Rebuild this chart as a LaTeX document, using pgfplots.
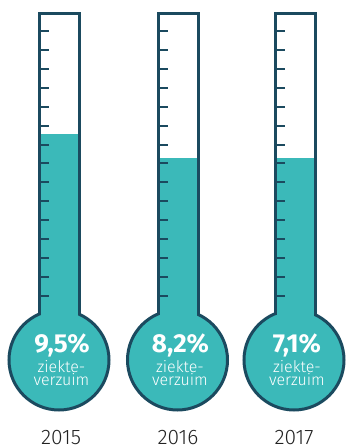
\documentclass[border=0pt]{standalone}
\usepackage{pgfplots}
\usepackage{pgfplotstable}
\pgfplotsset{compat=1.18}
\usepackage{fontspec}
\setmainfont{Fira Sans}
\newfontfamily\lightfont{Fira Sans Light}
\definecolor{teal1}{HTML}{3BB9B9}
\definecolor{dark1}{HTML}{1B4A5F}
\definecolor{yeargray}{HTML}{222222}

\pgfplotstableread{
y
417
398.1
379.1
360.2
341.3
322.4
303.4
284.5
265.6
246.6
227.7
208.8
189.8
170.9
152
}\tickrows

\begin{document}
\begin{tikzpicture}
\begin{axis}[scale only axis, width=346pt, height=448pt,
  xmin=0, xmax=346, ymin=0, ymax=448,
  axis lines=none, ticks=none, clip=false, set layers]

% keep the full canvas in the bounding box
\addplot[draw=none, mark=none, forget plot] coordinates {(0,0) (346,448)};

% bulbs
\addplot[only marks, mark=*, mark size=50pt, on layer=axis background, mark layer=axis background,
  mark options={fill=teal1, draw=dark1, line width=3pt}]
  coordinates {(59,88) (177.5,88) (294,88)};

% liquid levels (2015: 9,5%  2016: 8,2%  2017: 7,1%)
\addplot[fill=teal1, draw=none] coordinates {(41,110) (78,110) (78,314) (41,314)} -- cycle;
\addplot[fill=teal1, draw=none] coordinates {(159.5,110) (196.5,110) (196.5,290) (159.5,290)} -- cycle;
\addplot[fill=teal1, draw=none] coordinates {(276.5,110) (313.5,110) (313.5,290) (276.5,290)} -- cycle;

% tube walls
\addplot[dark1, line width=3pt, line join=miter] coordinates {(39.5,133) (39.5,434) (79.5,434) (79.5,133)};
\addplot[dark1, line width=3pt, line join=miter] coordinates {(158,133) (158,434) (198,434) (198,133)};
\addplot[dark1, line width=3pt, line join=miter] coordinates {(275,133) (275,434) (315,434) (315,133)};

% scale ticks
\addplot[dark1, line width=2pt, quiver={u=8, v=0}] table[x expr=41, y=y] {\tickrows};
\addplot[dark1, line width=2pt, quiver={u=8, v=0}] table[x expr=159.5, y=y] {\tickrows};
\addplot[dark1, line width=2pt, quiver={u=8, v=0}] table[x expr=276.5, y=y] {\tickrows};

% labels
\begin{pgfonlayer}{axis foreground}
\node[white, inner sep=0pt, anchor=base, font=\bfseries\fontsize{26}{30}\selectfont] at (axis cs:62,95) {9,5\%};
\node[white, inner sep=0pt, anchor=base, font=\bfseries\fontsize{26}{30}\selectfont] at (axis cs:180.5,95) {8,2\%};
\node[white, inner sep=0pt, anchor=base, font=\bfseries\fontsize{26}{30}\selectfont] at (axis cs:297,95) {7,1\%};
\node[white, inner sep=0pt, anchor=base, font=\lightfont\fontsize{16}{18}\selectfont] at (axis cs:61.5,75) {ziekte-};
\node[white, inner sep=0pt, anchor=base, font=\lightfont\fontsize{16}{18}\selectfont] at (axis cs:61.5,63) {verzuim};
\node[white, inner sep=0pt, anchor=base, font=\lightfont\fontsize{16}{18}\selectfont] at (axis cs:180,75) {ziekte-};
\node[white, inner sep=0pt, anchor=base, font=\lightfont\fontsize{16}{18}\selectfont] at (axis cs:180,63) {verzuim};
\node[white, inner sep=0pt, anchor=base, font=\lightfont\fontsize{16}{18}\selectfont] at (axis cs:297,75) {ziekte-};
\node[white, inner sep=0pt, anchor=base, font=\lightfont\fontsize{16}{18}\selectfont] at (axis cs:297,63) {verzuim};
\node[yeargray, inner sep=0pt, anchor=base, font=\lightfont\fontsize{21}{24}\selectfont] at (axis cs:61,4) {2015};
\node[yeargray, inner sep=0pt, anchor=base, font=\lightfont\fontsize{21}{24}\selectfont] at (axis cs:178,4) {2016};
\node[yeargray, inner sep=0pt, anchor=base, font=\lightfont\fontsize{21}{24}\selectfont] at (axis cs:294,4) {2017};
\end{pgfonlayer}
\end{axis}
\end{tikzpicture}
\end{document}
